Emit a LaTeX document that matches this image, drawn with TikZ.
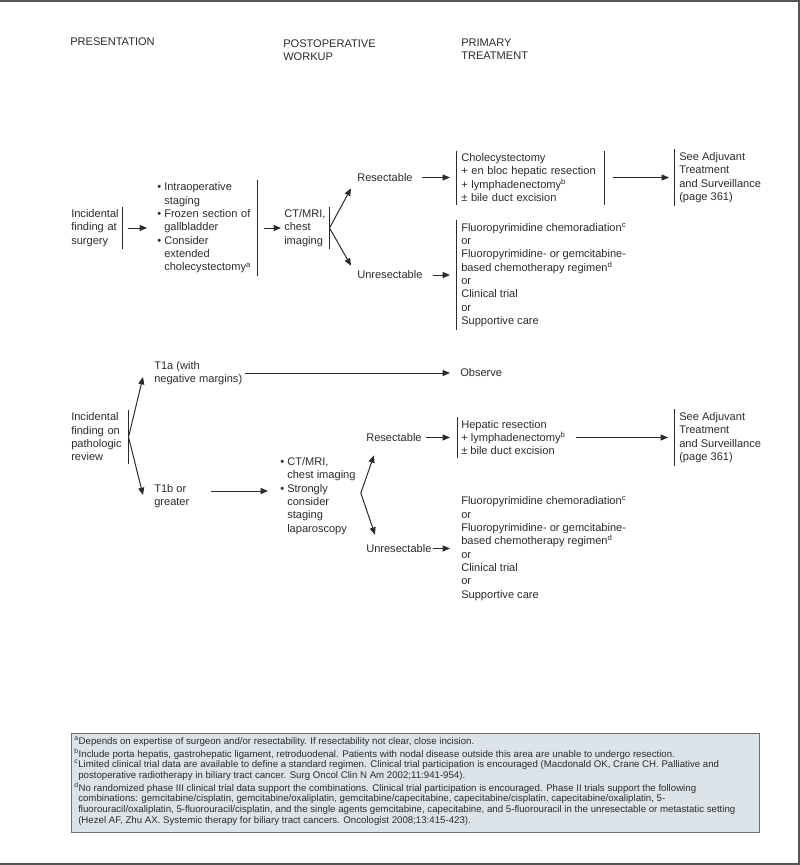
\documentclass[tikz,border=0pt]{standalone}
\usepackage{fontspec}
\setmainfont{Liberation Sans}
\usetikzlibrary{arrows.meta}
\definecolor{ink}{HTML}{2B2B2B}
\definecolor{notefill}{HTML}{DCE4EA}
\definecolor{noteline}{HTML}{6E6E6E}
\definecolor{frameline}{HTML}{555555}
\newcommand{\bul}{\makebox[5.25bp][l]{\textbullet}}
\newcommand{\ind}{\hspace*{5.25bp}}

\begin{document}
\begin{tikzpicture}[
  x=0.75bp, y=-0.75bp,
  every node/.style={font=\fontsize{8.3bp}{10bp}\selectfont, text=ink, inner sep=0pt},
  txt/.style={anchor=west, align=left},
  vbar/.style={draw=ink, line width=0.75bp, shorten <=-2bp, shorten >=-2bp},
  arrow/.style={-{Triangle[length=5.5bp,width=4.5bp]}, draw=ink, line width=0.75bp},
  fnote/.style={font=\fontsize{7.25bp}{8.1bp}\selectfont, anchor=north west, align=left}
]
\useasboundingbox (0,0) rectangle (800,865);
\draw[frameline, line width=1.5bp] (0,1) -- (798.5,1) -- (798.5,863.5) -- (0,863.5);

\node[txt] (hpres) at (70,42) {PRESENTATION};
\node[txt] (hpost) at (283,50.5) {POSTOPERATIVE\\WORKUP};
\node[txt] (hprim) at (461,49.5) {PRIMARY\\TREATMENT};

\node[txt, text width=38.25bp] (inc1) at (71,228) {Incidental\\finding at\\surgery};
\node[txt, text width=75bp] (bl1) at (157,228) {\bul Intraoperative\\\ind staging\\\bul Frozen section of\\\ind gallbladder\\\bul Consider\\\ind extended\\\ind cholecystectomy\textsuperscript{a}};
\node[txt, text width=33.75bp] (ct1) at (284,228) {CT/MRI,\\chest\\imaging};
\node[txt] (res1) at (357,177.5) {Resectable};
\node[txt] (unres1) at (357,275) {Unresectable};
\node[txt, text width=107.25bp] (tr1) at (461,177.5) {Cholecystectomy\\+ en bloc hepatic resection\\+ lymphadenectomy\textsuperscript{b}\\± bile duct excision};
\node[txt] (adj1) at (679,177.5) {See Adjuvant\\Treatment\\and Surveillance\\(page 361)};
\node[txt] (unr1) at (461,275) {Fluoropyrimidine chemoradiation\textsuperscript{c}\\or\\Fluoropyrimidine- or gemcitabine-\\based chemotherapy regimen\textsuperscript{d}\\or\\Clinical trial\\or\\Supportive care};

\draw[vbar] (inc1.north east) -- (inc1.south east);
\draw[vbar] (bl1.north east) -- (bl1.south east);
\draw[vbar] (ct1.north east) -- (ct1.south east);
\draw[vbar] ([shift={(-5,0)}]tr1.north west) -- ([shift={(-5,0)}]tr1.south west);
\draw[vbar] (tr1.north east) -- (tr1.south east);
\draw[vbar] ([shift={(-5,0)}]adj1.north west) -- ([shift={(-5,0)}]adj1.south west);
\draw[vbar] ([shift={(-5,0)}]unr1.north west) -- ([shift={(-5,0)}]unr1.south west);

\draw[arrow] ([shift={(5,0)}]inc1.east) -- ([shift={(-10,0)}]bl1.west);
\draw[arrow] ([shift={(6,0)}]bl1.east) -- ([shift={(-3,0)}]ct1.west);
\draw[arrow] (ct1.east) -- ([shift={(-6,6.5)}]res1.south west);
\draw[arrow] (ct1.east) -- ([shift={(-6,-5)}]unres1.north west);
\draw[arrow] ([shift={(9,0)}]res1.east) -- ([shift={(-11,0)}]tr1.west);
\draw[arrow] ([shift={(10,0)}]unres1.east) -- ([shift={(-11,0)}]unr1.west);
\draw[arrow] ([shift={(8,0)}]tr1.east) -- ([shift={(-10,0)}]adj1.west);

\node[txt] (t1a) at (154,373) {T1a (with\\negative margins)};
\node[txt] (obs) at (460,373) {Observe};
\node[txt, text width=42.75bp] (inc2) at (71,437) {Incidental\\finding on\\pathologic\\review};
\node[txt] (t1b) at (154,496) {T1b or\\greater};
\node[txt] (bl2) at (280,496) {\bul CT/MRI,\\\ind chest imaging\\\bul Strongly\\\ind consider\\\ind staging\\\ind laparoscopy};
\coordinate (v2) at ([shift={(5,-3)}]bl2.east);
\node[txt] (res2) at (366,437.5) {Resectable};
\node[txt] (unres2) at (366,548.5) {Unresectable};
\node[txt] (hep) at (461,437.5) {Hepatic resection\\+ lymphadenectomy\textsuperscript{b}\\± bile duct excision};
\node[txt] (adj2) at (679,437.5) {See Adjuvant\\Treatment\\and Surveillance\\(page 361)};
\node[txt] (unr2) at (461,548.5) {Fluoropyrimidine chemoradiation\textsuperscript{c}\\or\\Fluoropyrimidine- or gemcitabine-\\based chemotherapy regimen\textsuperscript{d}\\or\\Clinical trial\\or\\Supportive care};

\draw[vbar] (inc2.north east) -- (inc2.south east);
\draw[vbar] ([shift={(-4,0)}]hep.north west) -- ([shift={(-4,0)}]hep.south west);
\draw[vbar] ([shift={(-5,0)}]adj2.north west) -- ([shift={(-5,0)}]adj2.south west);

\draw[arrow] (inc2.east) -- ([shift={(-11,4)}]t1a.west);
\draw[arrow] (inc2.east) -- ([shift={(-11,-1)}]t1b.west);
\draw[arrow] ([shift={(3,0)}]t1a.east) -- ([shift={(-10,0)}]obs.west);
\draw[arrow] ([shift={(21,-5)}]t1b.east) -- ([shift={(-12,-5)}]bl2.west);
\draw[arrow] (v2) -- ([shift={(8,13.5)}]res2.south west);
\draw[arrow] (v2) -- ([shift={(9,-9.5)}]unres2.north west);
\draw[arrow] ([shift={(4,0)}]res2.east) -- ([shift={(-11,0)}]hep.west);
\draw[arrow] ([shift={(1,0)}]unres2.east) -- ([shift={(-11,0)}]unr2.west);
\draw[arrow] ([shift={(10,0)}]hep.east) -- ([shift={(-11,0)}]adj2.west);

\filldraw[fill=notefill, draw=noteline, line width=0.75bp] (71,733) rectangle (759,832);
\node[fnote] (notes) at (74,737) {\textsuperscript{a}Depends on expertise of surgeon and/or resectability. If resectability not clear, close incision.\\
\textsuperscript{b}Include porta hepatis, gastrohepatic ligament, retroduodenal. Patients with nodal disease outside this area are unable to undergo resection.\\
\textsuperscript{c}Limited clinical trial data are available to define a standard regimen. Clinical trial participation is encouraged (Macdonald OK, Crane CH. Palliative and\\
\hspace*{3bp}postoperative radiotherapy in biliary tract cancer. Surg Oncol Clin N Am 2002;11:941-954).\\
\textsuperscript{d}No randomized phase III clinical trial data support the combinations. Clinical trial participation is encouraged. Phase II trials support the following\\
\hspace*{3bp}combinations: gemcitabine/cisplatin, gemcitabine/oxaliplatin, gemcitabine/capecitabine, capecitabine/cisplatin, capecitabine/oxaliplatin, 5-\\
\hspace*{3bp}fluorouracil/oxaliplatin, 5-fluorouracil/cisplatin, and the single agents gemcitabine, capecitabine, and 5-fluorouracil in the unresectable or metastatic setting\\
\hspace*{3bp}(Hezel AF, Zhu AX. Systemic therapy for biliary tract cancers. Oncologist 2008;13:415-423).};
\end{tikzpicture}
\end{document}
